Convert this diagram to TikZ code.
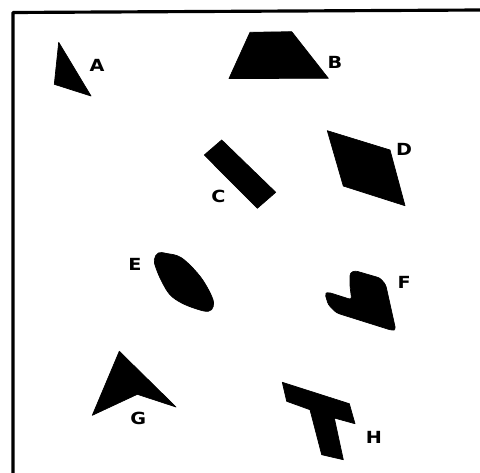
\documentclass[tikz,border=0pt]{standalone}
\usepackage{fontspec}
\usepackage{tikz}
\usetikzlibrary{
  calc,        % 坐标计算
  positioning  % 节点相对定位
}
\newfontfamily\labelfont{DejaVu Sans}

\begin{document}
\begin{tikzpicture}[x=0.02cm, y=-0.02cm, line join=round,
    blk/.style={fill=black, draw=black, line width=0.4pt},
    tag/.style={font=\labelfont\bfseries\fontsize{9.5}{10}\selectfont, inner sep=0pt, xscale=1.15}]

  % =========== 画布与边框 (只有上边和左边) ===========
  \useasboundingbox (0,0) rectangle (480,473);
  \coordinate (TL) at (13,12.5);
  \coordinate (TR) at (480,10);
  \coordinate (BL) at (13,473);
  \draw[line width=1.8pt] (TR) -- (TL) -- (BL);

  % =========== A：三角形 ===========
  \fill[blk] (58.7,42.3) -- (91,96) -- (54.3,84.3) -- cycle;
  \node[tag] (labA) at (97,65) {A};

  % =========== B：梯形 ===========
  \fill[blk] (250,32.3) -- (291.7,31.7) -- (328.3,78.3) -- (229,78.5) -- cycle;
  \node[tag] (labB) at (335,62.3) {B};

  % =========== C：斜放的长方形 ===========
  \fill[blk] (221.7,140) -- (275.7,192.3) -- (257.3,208.3) -- (204.3,155) -- cycle;
  \node[tag] (labC) at (218.3,196) {C};

  % =========== D：平行四边形 ===========
  \fill[blk] (327.3,130.7) -- (390,150) -- (405,205.7) -- (343.3,186) -- cycle;
  \node[tag] (labD) at (404,149.3) {D};

  % =========== E：不规则椭圆块 ===========
  \fill[blk] plot[smooth cycle, tension=0.6] coordinates {
    (158.3,253) (166.7,253.5) (181.7,258) (200,276.3) (211.7,296.3)
    (213.3,306.3) (208.3,311.3) (196.7,309) (181.7,303) (170,294.7)
    (161.7,281.3) (156,268) (154.3,259.7)};
  \node[tag] (labE) at (135,264.7) {E};

  % =========== F：缺口五边形 ===========
  \fill[blk, rounded corners=1.5pt] (350,273) -- (355,270.7) -- (380,278) -- (385.7,284.7)
    -- (395.7,329.7) -- (391.7,330.3) -- (336.7,313) -- (328.3,304.7)
    -- (325,293.7) -- (328.3,292.3) -- (351.7,299.7) -- (350,286.3) -- cycle;
  \node[tag] (labF) at (404.3,282.3) {F};

  % =========== G：箭头形 ===========
  \fill[blk] (119.3,351.3) -- (176,407) -- (137.3,394.3) -- (92.3,415.3) -- cycle;
  \node[tag] (labG) at (138.3,418) {G};

  % =========== H：T 字形 ===========
  \fill[blk] (282.3,382.3) -- (349.3,403.7) -- (355,423.7) -- (334.3,418)
    -- (343.3,459.7) -- (321.7,454.7) -- (310,409.7) -- (286.7,401.3) -- cycle;
  \node[tag] (labH) at (374,437) {H};

\end{tikzpicture}
\end{document}
